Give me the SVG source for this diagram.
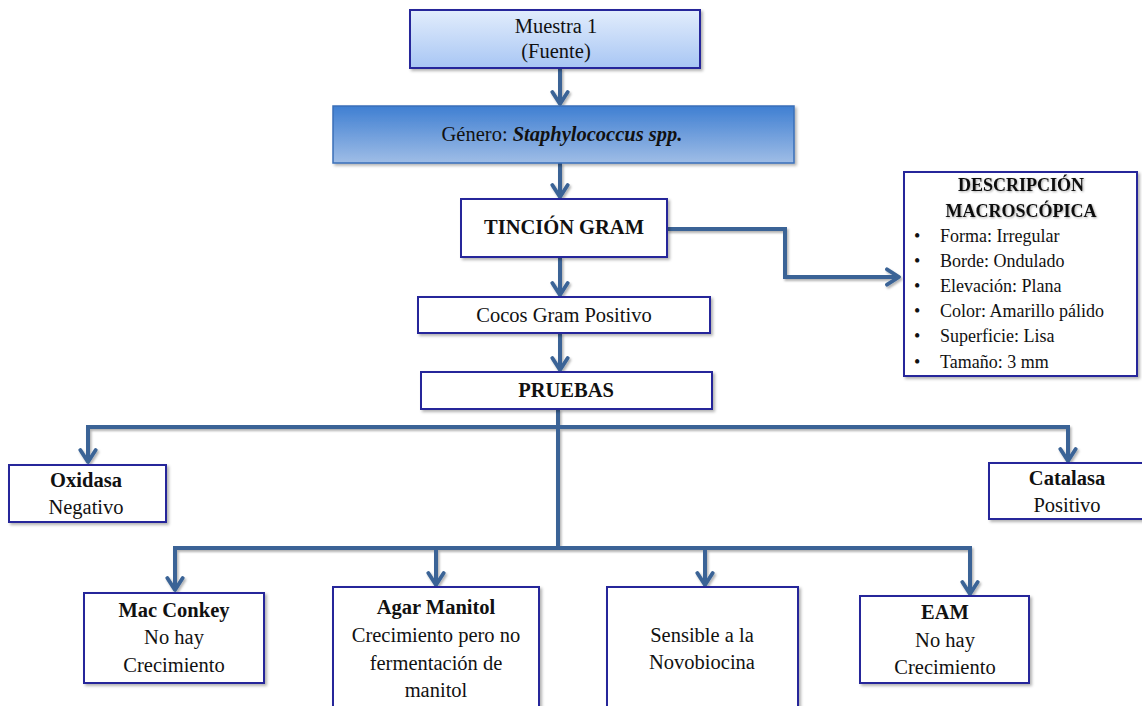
<svg xmlns="http://www.w3.org/2000/svg" width="1142" height="706" viewBox="0 0 1142 706">
  <defs>
    <linearGradient id="gSample" x1="0" y1="0" x2="0" y2="1">
      <stop offset="0" stop-color="#e2edfc"/>
      <stop offset="1" stop-color="#a8c6f4"/>
    </linearGradient>
    <linearGradient id="gGenus" x1="0" y1="0" x2="0" y2="1">
      <stop offset="0" stop-color="#3f7fd2"/>
      <stop offset="1" stop-color="#9fbde6"/>
    </linearGradient>
    <filter id="shadow" x="-5%" y="-10%" width="112%" height="130%">
      <feDropShadow dx="2" dy="2" stdDeviation="1.5" flood-color="#000" flood-opacity="0.3"/>
    </filter>
    <filter id="lineShadow" filterUnits="userSpaceOnUse" x="0" y="0" width="1142" height="706">
      <feDropShadow dx="1.5" dy="2" stdDeviation="1.2" flood-color="#000" flood-opacity="0.3"/>
    </filter>
    <filter id="textShadow" x="-5%" y="-20%" width="110%" height="150%">
      <feDropShadow dx="1" dy="1" stdDeviation="0.8" flood-color="#000" flood-opacity="0.35"/>
    </filter>
    <marker id="chev" viewBox="0 0 12 12" refX="10" refY="6" markerWidth="4.8" markerHeight="4.8" orient="auto" markerUnits="strokeWidth">
      <path d="M2.5,1.2 L10,6 L2.5,10.8" fill="none" stroke="#3a6496" stroke-width="2.4" stroke-linecap="round" stroke-linejoin="round"/>
    </marker>
  </defs>
  <style>
    .box { fill: #ffffff; stroke: #27289a; stroke-width: 2; filter: url(#shadow); }
    .t { font-family: "Liberation Serif", "Times New Roman", serif; font-size: 20.5px; fill: #111; text-anchor: middle; }
    .d { font-size: 18px; }
    .b { font-weight: bold; }
    .l { text-anchor: start; }
    .conn { fill: none; stroke: #3a6496; stroke-width: 4; stroke-linejoin: miter; }
  </style>

  <!-- connectors -->
  <g id="connectors" filter="url(#lineShadow)">
    <path class="conn" d="M560,68 V104" marker-end="url(#chev)"/>
    <path class="conn" d="M560,163 V197" marker-end="url(#chev)"/>
    <path class="conn" d="M560,257 V295" marker-end="url(#chev)"/>
    <path class="conn" d="M560,333 V370" marker-end="url(#chev)"/>
    <path class="conn" d="M667,229 H785 V277 H899" marker-end="url(#chev)"/>
    <path class="conn" d="M558,409 V548"/>
    <path class="conn" d="M88,462 V427 H1068 V461" marker-end="url(#chev)"/>
    <path class="conn" d="M88,430 V462" marker-end="url(#chev)"/>
    <path class="conn" d="M175,548 H970"/>
    <path class="conn" d="M175,546 V590" marker-end="url(#chev)"/>
    <path class="conn" d="M436,546 V585" marker-end="url(#chev)"/>
    <path class="conn" d="M705,546 V585" marker-end="url(#chev)"/>
    <path class="conn" d="M970,546 V594" marker-end="url(#chev)"/>
  </g>

  <g id="muestra">
    <rect x="410" y="10" width="290" height="58" fill="url(#gSample)" stroke="#27289a" stroke-width="2" filter="url(#shadow)"/>
    <text class="t" x="556" y="33">Muestra 1</text>
    <text class="t" x="556" y="58">(Fuente)</text>
  </g>

  <g id="genero">
    <rect x="333" y="106" width="461" height="57" fill="url(#gGenus)" stroke="#3a6fb8" stroke-width="1.5" filter="url(#shadow)"/>
    <text class="t" x="562" y="141">Género: <tspan font-weight="bold" font-style="italic">Staphylococcus spp.</tspan></text>
  </g>

  <g id="tincion">
    <rect class="box" x="461" y="199" width="206" height="58"/>
    <text class="t b" x="564" y="234">TINCIÓN GRAM</text>
  </g>

  <g id="descripcion">
    <rect class="box" x="904" y="172" width="233" height="204"/>
    <g filter="url(#textShadow)">
      <text class="t b d" x="1021" y="191">DESCRIPCIÓN</text>
      <text class="t b d" x="1021" y="217">MACROSCÓPICA</text>
    </g>
    <text class="t l d" x="914" y="242">•</text>
    <text class="t l d" x="940" y="242">Forma: Irregular</text>
    <text class="t l d" x="914" y="267">•</text>
    <text class="t l d" x="940" y="267">Borde: Ondulado</text>
    <text class="t l d" x="914" y="292">•</text>
    <text class="t l d" x="940" y="292">Elevación: Plana</text>
    <text class="t l d" x="914" y="317">•</text>
    <text class="t l d" x="940" y="317">Color: Amarillo pálido</text>
    <text class="t l d" x="914" y="342">•</text>
    <text class="t l d" x="940" y="342">Superficie: Lisa</text>
    <text class="t l d" x="914" y="368">•</text>
    <text class="t l d" x="940" y="368">Tamaño: 3 mm</text>
  </g>

  <g id="cocos">
    <rect class="box" x="418" y="297" width="292" height="36"/>
    <text class="t" x="564" y="322">Cocos Gram Positivo</text>
  </g>

  <g id="pruebas">
    <rect class="box" x="421" y="372" width="291" height="37"/>
    <text class="t b" x="566" y="397">PRUEBAS</text>
  </g>

  <g id="oxidasa">
    <rect class="box" x="9" y="465" width="157" height="57"/>
    <text class="t b" x="86" y="487">Oxidasa</text>
    <text class="t" x="86" y="514">Negativo</text>
  </g>

  <g id="catalasa">
    <rect class="box" x="989" y="463" width="160" height="56"/>
    <text class="t b" x="1067" y="485">Catalasa</text>
    <text class="t" x="1067" y="512">Positivo</text>
  </g>

  <g id="macconkey">
    <rect class="box" x="84" y="593" width="180" height="90"/>
    <text class="t b" x="174" y="617">Mac Conkey</text>
    <text class="t" x="174" y="644">No hay</text>
    <text class="t" x="174" y="672">Crecimiento</text>
  </g>

  <g id="agar">
    <rect class="box" x="333" y="587" width="206" height="130"/>
    <text class="t b" x="436" y="614">Agar Manitol</text>
    <text class="t" x="436" y="642">Crecimiento pero no</text>
    <text class="t" x="436" y="670">fermentación de</text>
    <text class="t" x="436" y="697">manitol</text>
  </g>

  <g id="novobiocina">
    <rect class="box" x="607" y="587" width="191" height="130"/>
    <text class="t" x="702" y="642">Sensible a la</text>
    <text class="t" x="702" y="669">Novobiocina</text>
  </g>

  <g id="eam">
    <rect class="box" x="860" y="596" width="169" height="87"/>
    <text class="t b" x="945" y="619">EAM</text>
    <text class="t" x="945" y="647">No hay</text>
    <text class="t" x="945" y="674">Crecimiento</text>
  </g>
</svg>
